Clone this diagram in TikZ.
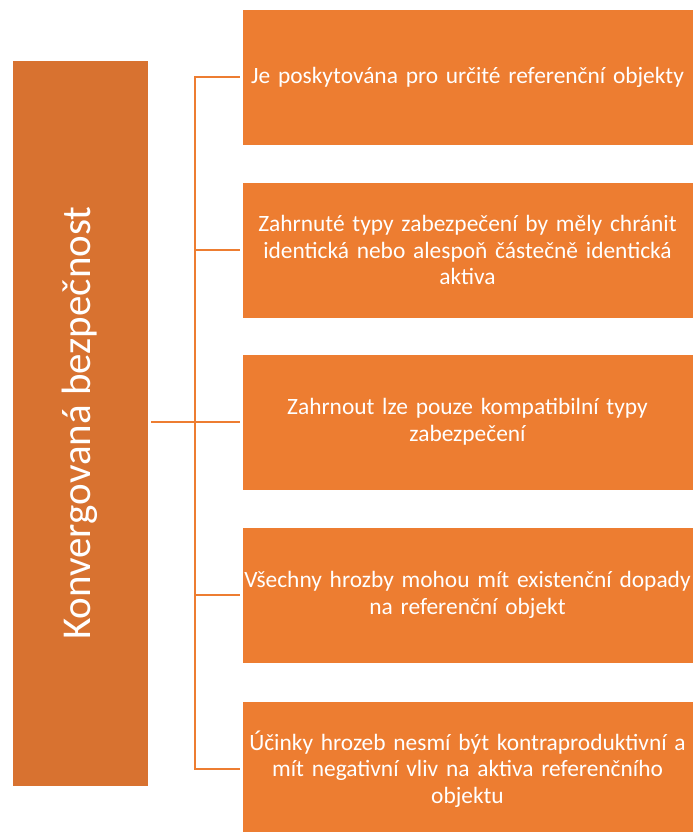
\documentclass[tikz,border=0pt]{standalone}
\usepackage{fontspec}
\setmainfont{Carlito}
\definecolor{leftorange}{HTML}{D87230}
\definecolor{boxorange}{HTML}{ED7D31}
\begin{document}
\begin{tikzpicture}[x=1pt,y=1pt,
  topic/.style={fill=leftorange, draw=white, line width=0.5pt, minimum width=136pt, minimum height=726pt, inner sep=0pt},
  item/.style={fill=boxorange, draw=white, line width=0.5pt, minimum width=451pt, minimum height=136pt, inner sep=2pt,
    text=white, align=center, text width=447pt, font=\fontsize{23.4}{26.5}\selectfont},
  link/.style={draw=boxorange, line width=2.6pt}
]
\useasboundingbox (0,0) rectangle (693,832);
% main topic on the left
\node[topic] (main) at (80,409) {};
\node[text=white, rotate=90, font=\fontsize{41}{48}\selectfont] (mainlabel) at (main.center) {Konvergovaná bezpečnost};
% the five statements
\node[item] (b1) at (467.5,755) {Je poskytována pro určité referenční objekty};
\node[item] (b2) at (467.5,582) {Zahrnuté typy zabezpečení by měly chránit\\identická nebo alespoň částečně identická\\aktiva};
\node[item] (b3) at (467.5,410) {Zahrnout lze pouze kompatibilní typy\\zabezpečení};
\node[item] (b4) at (467.5,237) {Všechny hrozby mohou mít existenční dopady\\na referenční objekt};
\node[item] (b5) at (467.5,63) {Účinky hrozeb nesmí být kontraproduktivní a\\mít negativní vliv na aktiva referenčního\\objektu};
% bracket connectors
\coordinate (spine) at (195,0);
\draw[link] ([xshift=3pt]main.east |- b3.west) -- ([xshift=-2pt]b3.west);
\draw[link] ([xshift=-2pt]b1.west) -- (spine |- b1.west) -- (spine |- b5.west) -- ([xshift=-2pt]b5.west);
\draw[link] (spine |- b2.west) -- ([xshift=-2pt]b2.west);
\draw[link] (spine |- b4.west) -- ([xshift=-2pt]b4.west);
\end{tikzpicture}
\end{document}
